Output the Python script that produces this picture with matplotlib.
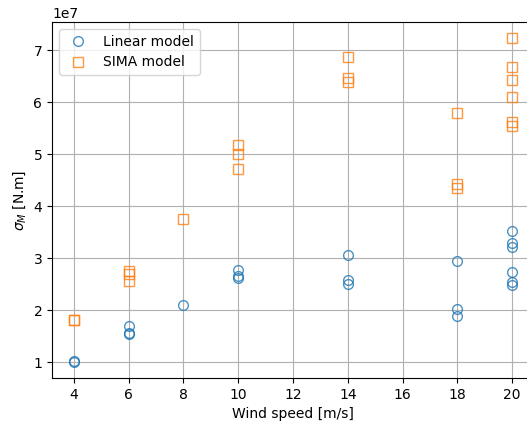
import matplotlib
matplotlib.use("Agg")
import matplotlib.pyplot as plt
import numpy as np

lin_x = [4, 4, 6, 6, 6, 8, 10, 10, 10, 14, 14, 14, 18, 18, 18, 20, 20, 20, 20, 20, 20]
lin_y = [1.01, 1.02, 1.69, 1.56, 1.54, 2.10, 2.77, 2.65, 2.62, 3.06, 2.58, 2.50,
         2.94, 2.02, 1.89, 3.52, 3.29, 3.21, 2.73, 2.54, 2.48]
sima_x = [4, 4, 6, 6, 6, 8, 10, 10, 10, 14, 14, 14, 18, 18, 18, 20, 20, 20, 20, 20, 20]
sima_y = [1.81, 1.82, 2.75, 2.69, 2.56, 3.75, 5.18, 5.00, 4.71, 6.86, 6.46, 6.38,
          5.79, 4.42, 4.36, 7.23, 6.67, 6.42, 6.10, 5.61, 5.54]

fig = plt.figure(figsize=(5.27, 4.24), dpi=100)
ax = fig.add_axes([52/527, 46/424, 482/527, 356/424])
ax.plot(lin_x, np.array(lin_y) * 1e7, 'o', mfc='none', mec='C0', ms=7, alpha=0.8, label='Linear model')
ax.plot(sima_x, np.array(sima_y) * 1e7, 's', mfc='none', mec='C1', ms=7, alpha=0.8, label='SIMA model')
ax.grid(True)
ax.set_xticks([4, 6, 8, 10, 12, 14, 16, 18, 20])
ax.set_xlabel('Wind speed [m/s]')
ax.set_ylabel(r'$\sigma_M$ [N.m]')
ax.legend(loc='upper left')
fig.savefig('out.png', dpi=100)
